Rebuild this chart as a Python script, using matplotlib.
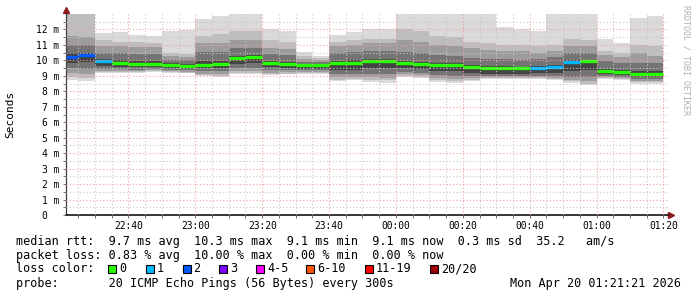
import numpy as np
import matplotlib.pyplot as plt

plt.rcParams['font.family'] = ['DejaVu Sans Mono']

# ---------------- data (values in ms) ----------------
graph_start = "22:21:21"
graph_end = "01:21:21"
first_step = "22:20"
step_minutes = 5
tick_labels = ["22:40", "23:00", "23:20", "23:40", "00:00", "00:20", "00:40", "01:00", "01:20"]

median = [10.22, 10.33, 9.95, 9.85, 9.76, 9.76, 9.70, 9.63, 9.73, 9.75,
          10.17, 10.25, 9.83, 9.76, 9.68, 9.69, 9.80, 9.83, 9.95, 9.96,
          9.83, 9.79, 9.72, 9.70, 9.55, 9.51, 9.51, 9.50, 9.51, 9.55,
          9.89, 9.96, 9.33, 9.25, 9.11, 9.11]
loss = [2, 2, 1, 0, 0, 0, 0, 0, 0, 0,
        0, 0, 0, 0, 0, 0, 0, 0, 0, 0,
        0, 0, 0, 0, 0, 0, 0, 0, 1, 1,
        1, 0, 0, 0, 0, 0]

# smoke: nested ping ranges per 5 minute step, outermost first
ping_max = [13.5, 13.5, 11.75, 11.83, 11.66, 11.57, 11.87, 11.94, 12.69, 12.84,
            13.5, 13.5, 12.04, 11.89, 10.54, 10.30, 11.61, 11.83, 12.04, 12.04,
            13.5, 13.5, 13.5, 13.5, 13.5, 13.5, 12.19, 12.04, 11.87, 13.5,
            13.5, 13.5, 11.40, 11.14, 12.73, 12.90]
upper1 = [13.4, 13.4, 11.3, 11.2, 11.2, 11.1, 10.5, 10.4, 11.6, 11.7,
          11.9, 11.9, 11.3, 11.2, 10.3, 10.15, 11.2, 11.3, 11.4, 11.4,
          12.0, 11.9, 11.6, 11.5, 11.2, 11.1, 11.0, 11.0, 10.9, 11.0,
          11.4, 11.3, 10.6, 10.5, 11.0, 10.9]
upper2 = [11.6, 11.5, 10.9, 10.9, 10.85, 10.85, 10.3, 10.25, 11.1, 11.15,
          11.3, 11.3, 10.8, 10.75, 10.1, 10.05, 10.9, 11.0, 11.1, 11.1,
          11.3, 11.2, 11.0, 10.9, 10.8, 10.7, 10.6, 10.6, 10.5, 10.6,
          10.9, 10.9, 10.35, 10.25, 10.5, 10.3]
upper3 = [11.0, 11.0, 10.5, 10.45, 10.4, 10.4, 10.05, 10.0, 10.55, 10.55,
          10.8, 10.8, 10.4, 10.35, 9.92, 9.92, 10.5, 10.55, 10.6, 10.6,
          10.55, 10.5, 10.35, 10.3, 10.15, 10.1, 10.1, 10.05, 10.1, 10.2,
          10.45, 10.45, 9.95, 9.85, 9.85, 9.8]
upper4 = [10.45, 10.5, 10.1, 10.0, 9.95, 9.95, 9.8, 9.75, 9.95, 9.95,
          10.3, 10.35, 9.95, 9.9, 9.75, 9.75, 9.95, 10.0, 10.1, 10.1,
          9.95, 9.9, 9.85, 9.85, 9.7, 9.65, 9.65, 9.6, 9.65, 9.7,
          10.0, 10.05, 9.45, 9.4, 9.3, 9.3]
lower4 = [9.85, 9.9, 9.65, 9.6, 9.55, 9.55, 9.5, 9.45, 9.5, 9.5,
          9.75, 9.8, 9.55, 9.5, 9.45, 9.45, 9.35, 9.4, 9.5, 9.5,
          9.5, 9.45, 9.3, 9.3, 9.2, 9.15, 9.15, 9.15, 9.2, 9.2,
          9.3, 9.35, 9.1, 9.05, 8.95, 8.95]
lower3 = [9.5, 9.45, 9.45, 9.45, 9.4, 9.45, 9.4, 9.35, 9.3, 9.3,
          9.5, 9.5, 9.35, 9.35, 9.35, 9.35, 9.1, 9.1, 9.15, 9.1,
          9.25, 9.2, 9.05, 9.0, 9.0, 9.0, 9.0, 9.0, 9.0, 9.0,
          8.95, 8.9, 9.0, 8.95, 8.8, 8.8]
lower2 = [9.2, 9.1, 9.3, 9.3, 9.3, 9.35, 9.3, 9.25, 9.15, 9.1,
          9.3, 9.3, 9.2, 9.25, 9.25, 9.25, 8.9, 8.9, 8.9, 8.85,
          9.1, 9.05, 8.85, 8.8, 8.85, 8.9, 8.9, 8.9, 8.9, 8.85,
          8.75, 8.65, 8.9, 8.85, 8.65, 8.65]
lower1 = [8.95, 8.85, 9.22, 9.22, 9.22, 9.3, 9.22, 9.2, 9.05, 9.0,
          9.2, 9.2, 9.1, 9.15, 9.2, 9.2, 8.75, 8.8, 8.75, 8.7,
          9.0, 8.95, 8.72, 8.65, 8.75, 8.85, 8.85, 8.85, 8.85, 8.78,
          8.65, 8.5, 8.85, 8.78, 8.57, 8.57]
ping_min = [8.75, 8.65, 9.18, 9.18, 9.16, 9.25, 9.18, 9.16, 8.97, 8.94,
            9.1, 9.1, 9.05, 9.1, 9.15, 9.15, 8.65, 8.7, 8.62, 8.55,
            8.93, 8.85, 8.62, 8.55, 8.67, 8.82, 8.82, 8.82, 8.82, 8.72,
            8.55, 8.4, 8.82, 8.72, 8.5, 8.5]

loss_names = ["0", "1", "2", "3", "4-5", "6-10", "11-19", "20/20"]
loss_colors = ["#26ff00", "#00b8ff", "#0059ff", "#7e00ff", "#ff00ff", "#ff5500", "#ff0000", "#a10000"]
smoke_colors = ["#dadada", "#bdbdbd", "#9c9c9c", "#747474", "#444444"]

stats_line = "median rtt:  9.7 ms avg  10.3 ms max  9.1 ms min  9.1 ms now  0.3 ms sd  35.2   am/s"
loss_line = "packet loss: 0.83 % avg  10.00 % max  0.00 % min  0.00 % now"
probe_line = "probe:       20 ICMP Echo Pings (56 Bytes) every 300s"
stamp = "Mon Apr 20 01:21:21 2026"


def minutes_after_start(hhmm):
    parts = [int(p) for p in hhmm.split(":")]
    while len(parts) < 3:
        parts.append(0)
    t = parts[0] * 60 + parts[1] + parts[2] / 60.0
    s = [int(p) for p in graph_start.split(":")]
    t0 = s[0] * 60 + s[1] + s[2] / 60.0
    if t < t0 - 12 * 60:   # past midnight
        t += 24 * 60
    return t - t0


W, H = 697, 297
fig = plt.figure(figsize=(W / 100, H / 100), dpi=100)
fig.patch.set_facecolor("white")
L, R, T, B = 66, 668, 14, 215
ax = fig.add_axes([L / W, 1 - B / H, (R - L) / W, (B - T) / H])

n = len(median)
starts = np.array([minutes_after_start(first_step) + i * step_minutes for i in range(n)])

bands = [(ping_min, ping_max), (lower1, upper1), (lower2, upper2), (lower3, upper3), (lower4, upper4)]
for (lo, hi), col in zip(bands, smoke_colors):
    lo = np.array(lo)
    hi = np.array(hi)
    ax.bar(starts, hi - lo, bottom=lo, width=step_minutes, align="edge",
           color=col, linewidth=0, zorder=1)

med_cols = [loss_colors[v] for v in loss]
ax.hlines(median, starts, starts + step_minutes, colors=med_cols, linewidth=2.4, zorder=2)

ax.set_xlim(0, minutes_after_start(graph_end))
ax.set_ylim(0, 13)

major_x = [minutes_after_start(t) for t in tick_labels]
ax.set_xticks(major_x)
ax.set_xticklabels(tick_labels)
ax.set_xticks([s for s in starts if s > 0], minor=True)
ax.set_yticks(range(0, 13))
ax.set_yticklabels(["0  "] + ["%d m" % v for v in range(1, 13)])
ax.set_yticks(np.arange(0.5, 13, 0.5), minor=True)

ax.grid(which="minor", color="#c8c8c8", linestyle=(0, (1, 2)), linewidth=0.8)
ax.grid(which="major", color="#f0a0a0", linestyle=(0, (1, 2)), linewidth=0.8)
ax.set_axisbelow(False)

ax.tick_params(which="both", length=2, width=0.7, color="#707070", direction="out")
ax.tick_params(axis="y", which="major", labelsize=6.9, pad=2.8)
ax.tick_params(axis="x", which="major", labelsize=6.9, pad=2.5)
for sp in ["top", "right"]:
    ax.spines[sp].set_visible(False)
ax.spines["left"].set_color("#404040")
ax.spines["bottom"].set_color("black")
ax.spines["left"].set_linewidth(0.9)
ax.spines["bottom"].set_linewidth(1.1)

# axis arrows
ax.plot([0], [1 + 4 / (B - T)], marker="^", color="#8b1a1a", markersize=4,
        transform=ax.transAxes, clip_on=False)
ax.plot([1 + 3 / (R - L)], [0], marker=">", color="#8b1a1a", markersize=4,
        transform=ax.transAxes, clip_on=False)


def px(x, y):
    return x / W, 1 - y / H


fig.text(*px(10, 114), "Seconds", rotation=90, ha="center", va="center", fontsize=8)
fig.text(*px(686, 60), "RRDTOOL / TOBI OETIKER", rotation=-90, ha="center", va="center",
         fontsize=6, color="#b0b0b0")

fs = 8.5
fig.text(*px(15.5, 241), stats_line, ha="left", va="center", fontsize=fs)
fig.text(*px(15.5, 255), loss_line, ha="left", va="center", fontsize=fs)
fig.text(*px(15.5, 269), "loss color:", ha="left", va="center", fontsize=fs)
fig.text(*px(15.5, 283), probe_line, ha="left", va="center", fontsize=fs)
fig.text(*px(681, 283), stamp, ha="right", va="center", fontsize=fs)

sq_x = [108, 145.5, 182.5, 219, 256, 306, 365, 430]
for x0, name, col in zip(sq_x, loss_names, loss_colors):
    fx, fy = px(x0, 273)
    fig.patches.append(plt.Rectangle((fx, fy), 8 / W, 8 / H, transform=fig.transFigure,
                                     facecolor=col, edgecolor="black", linewidth=0.8))
    fig.text(*px(x0 + 11, 269), name, ha="left", va="center", fontsize=fs)

fig.savefig("out.png", dpi=100, facecolor="white")
